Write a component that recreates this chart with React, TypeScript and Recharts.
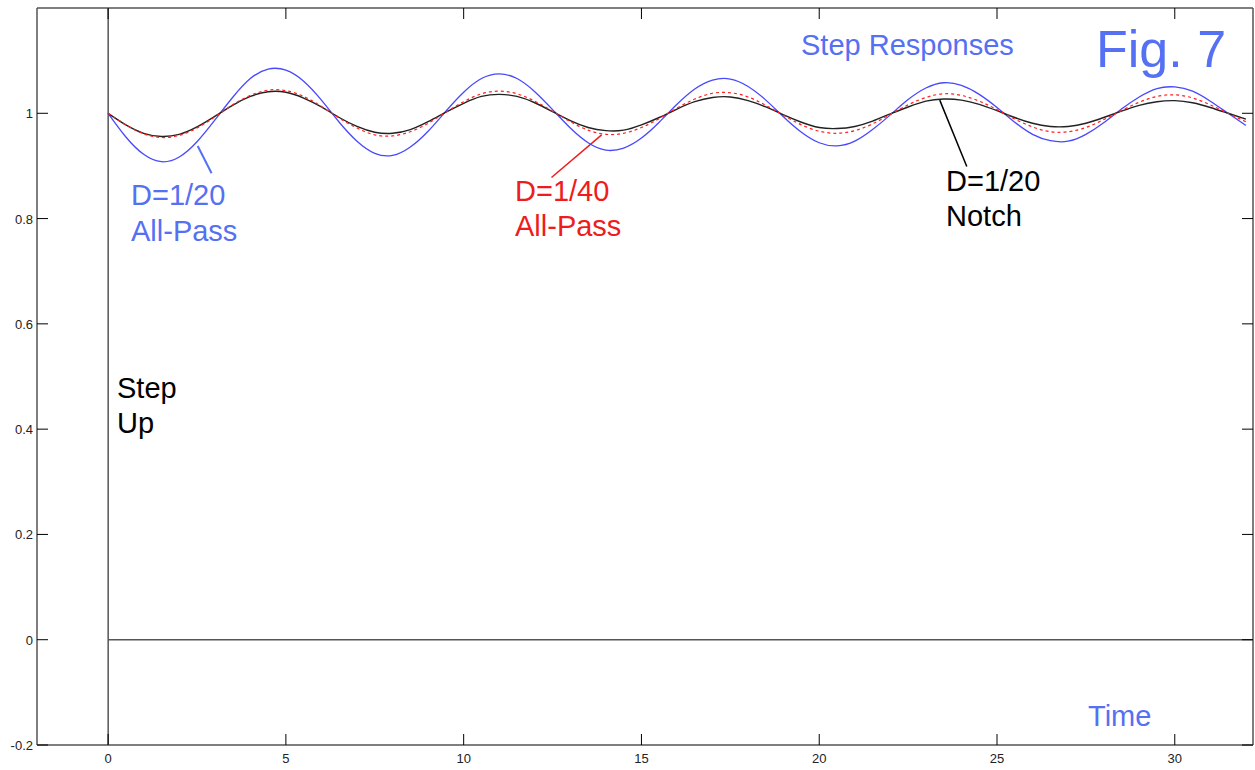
import React from 'react';
import { LineChart, Line, XAxis, YAxis, ReferenceLine } from 'recharts';

const times = [0,0.5,1,1.5,2,2.5,3,3.5,4,4.5,5,5.5,6,6.5,7,7.5,8,8.5,9,9.5,10,10.5,11,11.5,12,12.5,13,13.5,14,14.5,15,15.5,16,16.5,17,17.5,18,18.5,19,19.5,20,20.5,21,21.5,22,22.5,23,23.5,24,24.5,25,25.5,26,26.5,27,27.5,28,28.5,29,29.5,30,30.5,31,31.5,32];

const allPass20 = [1.000,0.955,0.922,0.908,0.917,0.946,0.987,1.030,1.066,1.084,1.082,1.061,1.025,0.983,0.947,0.924,0.920,0.936,0.966,1.004,1.040,1.066,1.075,1.066,1.041,1.007,0.972,0.944,0.930,0.934,0.953,0.983,1.017,1.046,1.063,1.065,1.051,1.025,0.993,0.964,0.944,0.938,0.947,0.969,0.997,1.026,1.048,1.058,1.053,1.036,1.011,0.983,0.960,0.948,0.947,0.960,0.982,1.008,1.031,1.047,1.050,1.042,1.023,1.000,0.977];

const notch20 = [1.000,0.978,0.962,0.956,0.960,0.974,0.994,1.015,1.032,1.041,1.040,1.029,1.012,0.992,0.975,0.964,0.962,0.969,0.984,1.002,1.019,1.032,1.036,1.032,1.020,1.003,0.986,0.973,0.967,0.968,0.978,0.992,1.008,1.022,1.030,1.031,1.024,1.012,0.997,0.983,0.973,0.971,0.975,0.985,0.999,1.012,1.023,1.027,1.025,1.017,1.005,0.992,0.981,0.975,0.975,0.981,0.992,1.004,1.015,1.022,1.024,1.020,1.011,1.000,0.989];

const allPass40 = [1.000,0.978,0.961,0.954,0.958,0.972,0.993,1.016,1.034,1.044,1.043,1.032,1.013,0.991,0.972,0.959,0.957,0.965,0.981,1.002,1.022,1.037,1.042,1.037,1.023,1.004,0.984,0.968,0.960,0.962,0.973,0.990,1.010,1.027,1.038,1.039,1.031,1.015,0.996,0.978,0.966,0.962,0.967,0.980,0.998,1.016,1.030,1.037,1.034,1.023,1.007,0.989,0.974,0.965,0.965,0.973,0.988,1.005,1.021,1.032,1.035,1.029,1.016,1.000,0.984];

const xTicks = [0, 5, 10, 15, 20, 25, 30];
const yTicks = [-0.2, 0, 0.2, 0.4, 0.6, 0.8, 1];
const xDomain = [-2, 32.2];
const yDomain = [-0.2, 1.2];

// leader lines (data coordinates)
const blueLeader = [{ x: 2.52, y: 0.938 }, { x: 2.91, y: 0.886 }];
const redLeader = [{ x: 13.88, y: 0.959 }, { x: 12.47, y: 0.878 }];
const blackLeader = [{ x: 23.39, y: 1.025 }, { x: 24.15, y: 0.899 }];
const stepLine = [{ x: 0, y: 0 }, { x: 32.2, y: 0 }];

const data = times.map((t, i) => ({ t, a20: allPass20[i], n20: notch20[i], a40: allPass40[i] }));

const TICK_LEN = 11;
const LABEL_BLUE = '#5570f2';
const FONT = '"Liberation Sans", Arial, sans-serif';

const BottomTick = (props: any) => {
  const { x, y, payload } = props;
  return (
    <g>
      <line x1={x} x2={x} y1={y} y2={y - TICK_LEN} stroke="#000" strokeWidth={1} />
      <text x={x} y={y + 18} textAnchor="middle" fontSize={13} fontFamily={FONT} fill="#222">{payload.value}</text>
    </g>
  );
};
const TopTick = (props: any) => {
  const { x, y } = props;
  return <line x1={x} x2={x} y1={y} y2={y + TICK_LEN} stroke="#000" strokeWidth={1} />;
};
const LeftTick = (props: any) => {
  const { x, y, payload } = props;
  return (
    <g>
      <line x1={x} x2={x + TICK_LEN} y1={y} y2={y} stroke="#000" strokeWidth={1} />
      <text x={x - 4} y={y + 5} textAnchor="end" fontSize={13} fontFamily={FONT} fill="#222">{payload.value}</text>
    </g>
  );
};
const RightTick = (props: any) => {
  const { x, y } = props;
  return <line x1={x} x2={x - TICK_LEN} y1={y} y2={y} stroke="#000" strokeWidth={1} />;
};

const axisLine = { stroke: '#555', strokeWidth: 1.5 };

export default function App() {
  return (
    <div style={{ position: 'absolute', left: 0, top: 0, width: 1255, height: 770, background: '#fff' }}>
      <LineChart width={1255} height={770} data={data} margin={{ top: 7, right: 1, bottom: 0, left: 0 }}>
        <XAxis dataKey="t" type="number" domain={xDomain} ticks={xTicks} interval={0} allowDataOverflow
          height={25} tickSize={0} tickMargin={0} axisLine={axisLine} tickLine={false} tick={<BottomTick />} />
        <XAxis xAxisId="top" orientation="top" dataKey="t" type="number" domain={xDomain} ticks={xTicks} interval={0}
          allowDataOverflow height={1} tickSize={0} tickMargin={0} axisLine={axisLine} tickLine={false} tick={<TopTick />} />
        <YAxis type="number" domain={yDomain} ticks={yTicks} interval={0} allowDataOverflow width={37}
          tickSize={0} tickMargin={0} axisLine={axisLine} tickLine={false} tick={<LeftTick />} />
        <YAxis yAxisId="right" orientation="right" type="number" domain={yDomain} ticks={yTicks} interval={0}
          allowDataOverflow width={1} tickSize={0} tickMargin={0} axisLine={axisLine} tickLine={false} tick={<RightTick />} />
        <ReferenceLine x={0} stroke="#000" strokeWidth={1} />
        <ReferenceLine segment={stepLine} stroke="#555" strokeWidth={1.5} />
        <ReferenceLine segment={blueLeader} stroke={LABEL_BLUE} strokeWidth={2} />
        <ReferenceLine segment={redLeader} stroke="#ee1c1c" strokeWidth={1.5} />
        <ReferenceLine segment={blackLeader} stroke="#000" strokeWidth={1.5} />
        <Line dataKey="a20" type="natural" stroke="#4848ff" strokeWidth={1.3} dot={false} isAnimationActive={false} />
        <Line dataKey="n20" type="natural" stroke="#222" strokeWidth={1.4} dot={false} isAnimationActive={false} />
        <Line dataKey="a40" type="natural" stroke="#ff2020" strokeWidth={1.2} strokeDasharray="3 3" dot={false} isAnimationActive={false} />
      </LineChart>
      <svg width={1255} height={770} style={{ position: 'absolute', left: 0, top: 0, pointerEvents: 'none' }}>
        <g fontFamily={FONT} fontSize={29}>
          <text x={801} y={55} fill={LABEL_BLUE}>Step Responses</text>
          <text x={1096} y={67} fill={LABEL_BLUE} fontSize={52}>Fig. 7</text>
          <text x={1088} y={726} fill={LABEL_BLUE}>Time</text>
          <text x={117} y={398} fill="#000">Step</text>
          <text x={117} y={433} fill="#000">Up</text>
          <text x={131} y={205} fill={LABEL_BLUE}>D=1/20</text>
          <text x={131} y={241} fill={LABEL_BLUE}>All-Pass</text>
          <text x={515} y={201} fill="#ee1c1c">D=1/40</text>
          <text x={515} y={236} fill="#ee1c1c">All-Pass</text>
          <text x={946} y={191} fill="#000">D=1/20</text>
          <text x={946} y={226} fill="#000">Notch</text>
        </g>
      </svg>
    </div>
  );
}
